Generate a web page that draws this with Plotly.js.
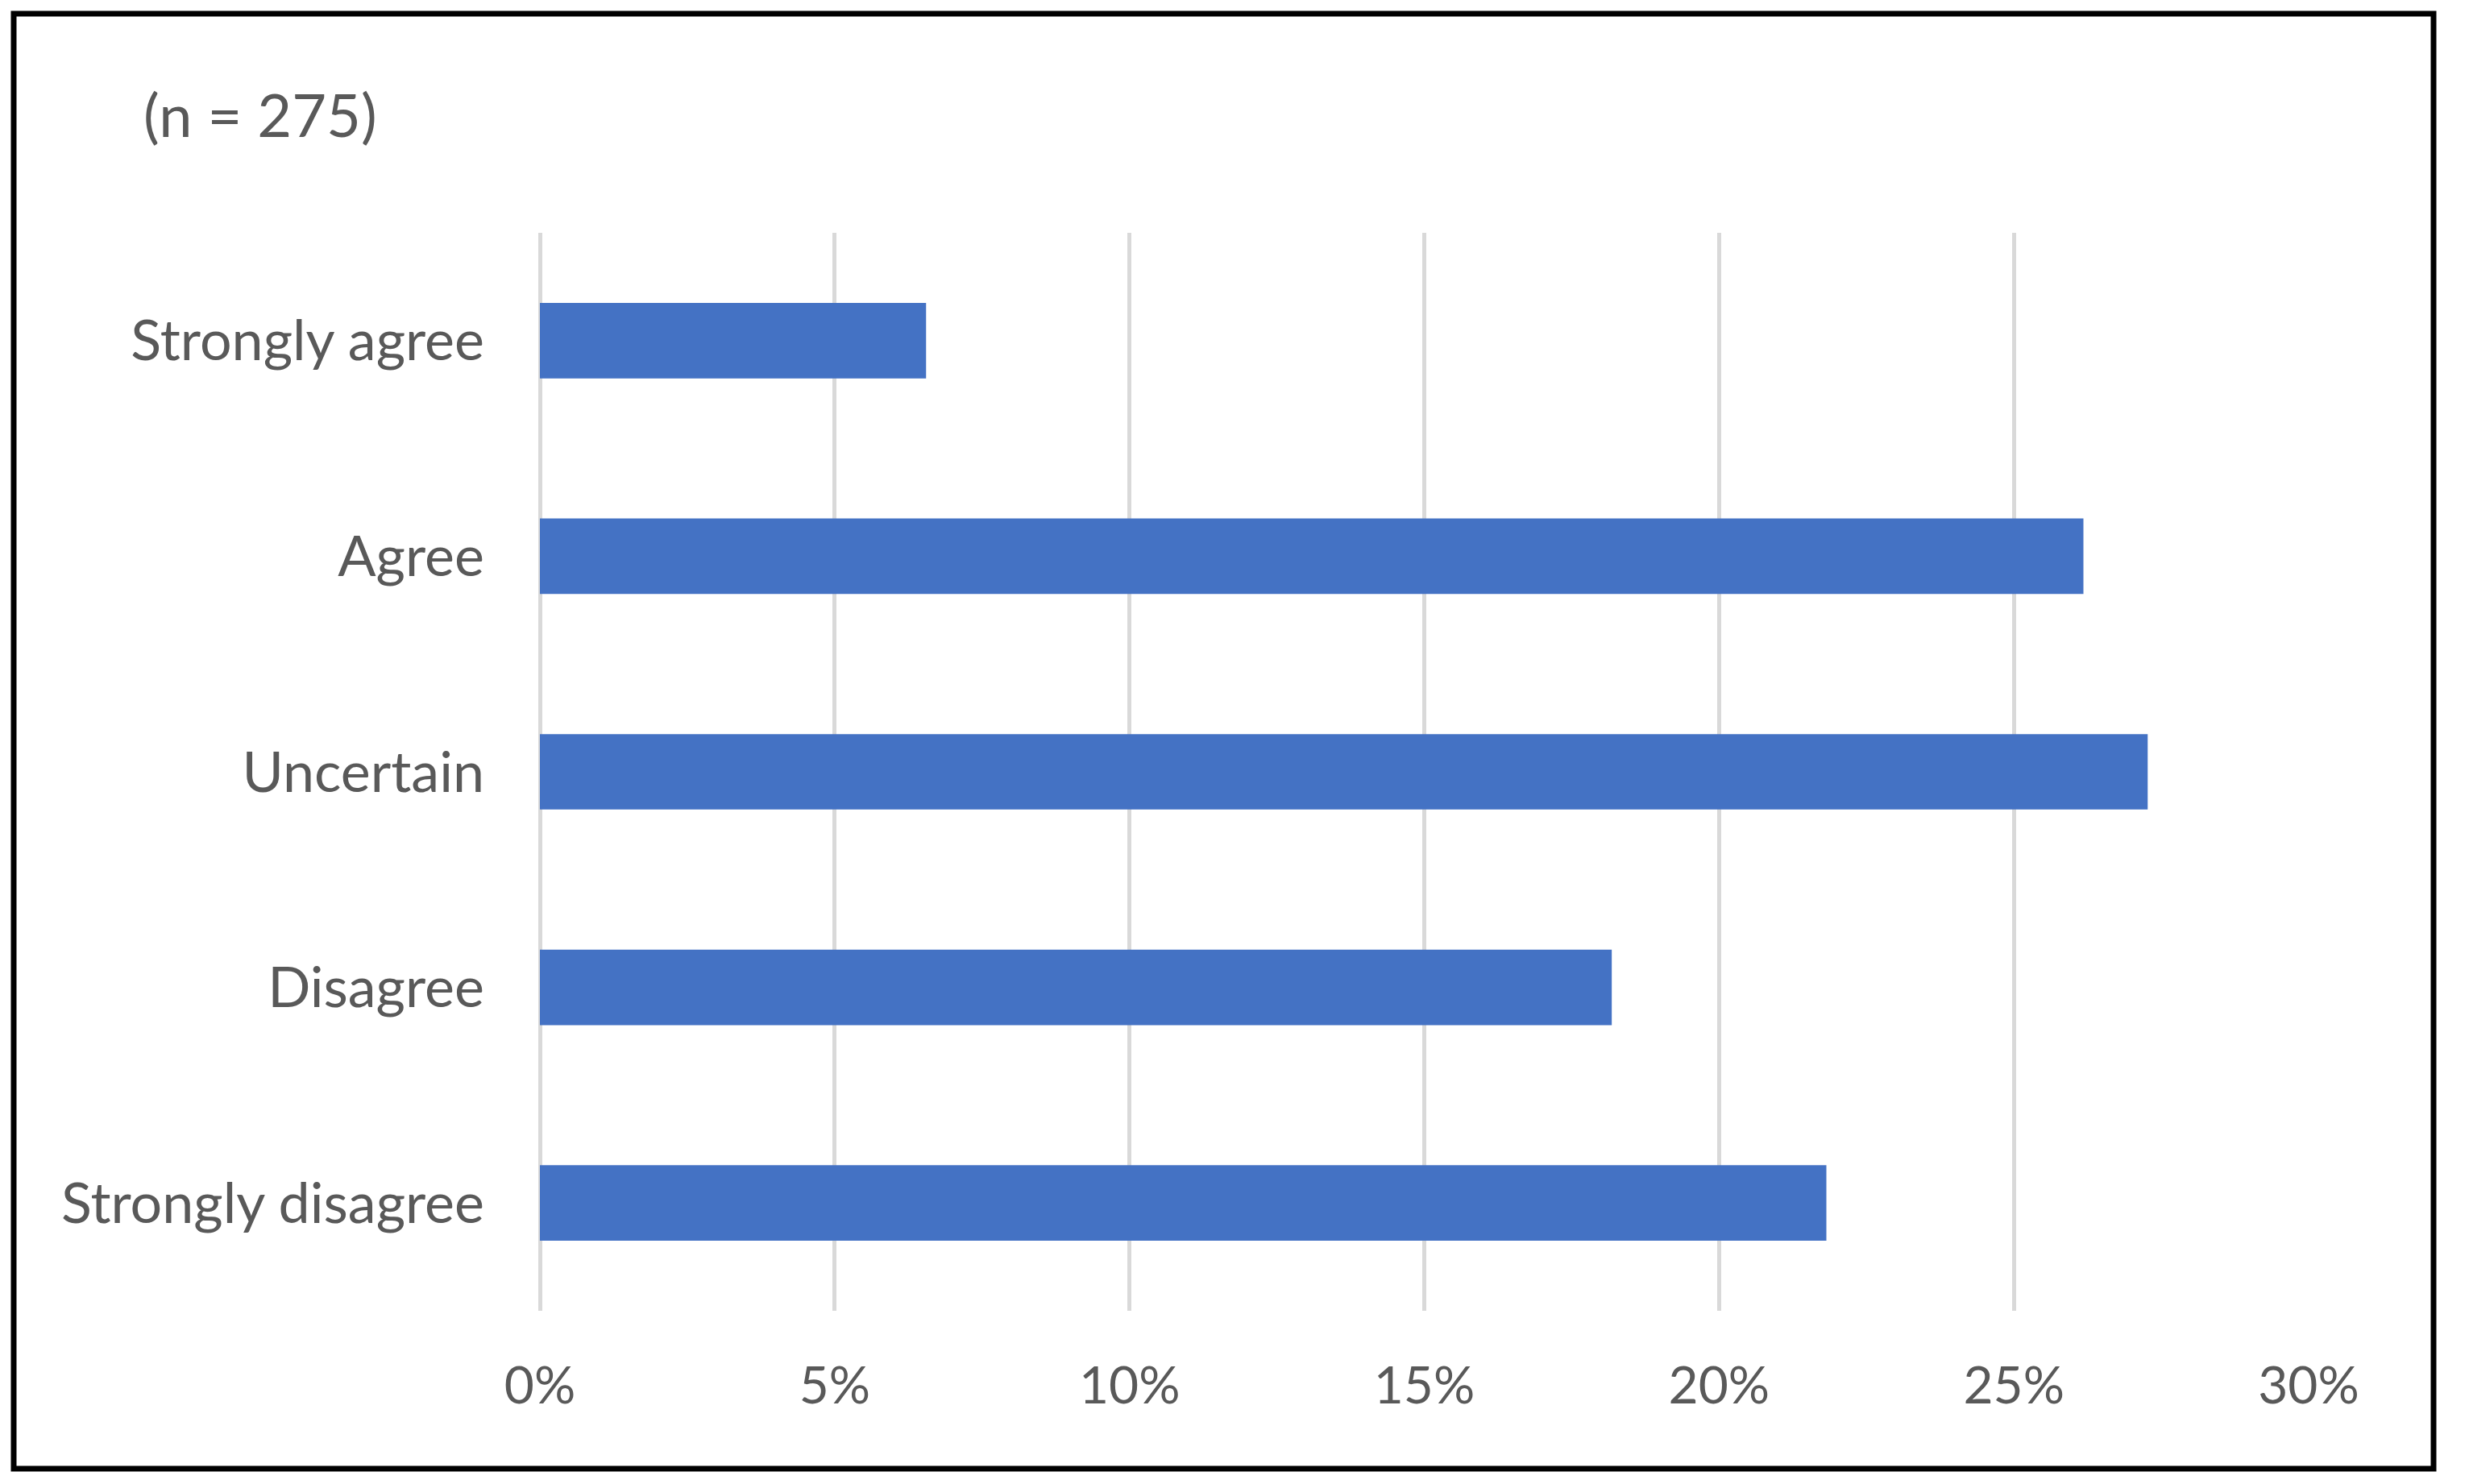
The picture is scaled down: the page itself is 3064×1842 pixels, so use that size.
<!DOCTYPE html>
<html>
<head>
<meta charset="utf-8">
<script src="https://cdn.plot.ly/plotly-3.0.1.min.js"></script>
<style>
  html, body { margin: 0; padding: 0; background: #ffffff; }
  #chart { width: 3064px; height: 1842px; }
</style>
</head>
<body>
<div id="chart"></div>
<script>
// Data (n = 275 respondents)
const categories = ["Strongly agree", "Agree", "Uncertain", "Disagree", "Strongly disagree"];
const shares = [0.0655, 0.2618, 0.2727, 0.1818, 0.2182];
const tickValues = [0, 0.05, 0.10, 0.15, 0.20, 0.25, 0.30];
const tickLabels = ["0%", "5%", "10%", "15%", "20%", "25%", "30%"];
const chartTitle = "(n = 275)";

const W = 3064, H = 1842;
const plotL = 670, plotR = 2865, plotT = 289, plotB = 1627;
const pw = plotR - plotL, ph = plotB - plotT;
const px = v => (v - plotL) / pw;
const py = v => (plotB - v) / ph;

const fontFamily = "Lato, 'Open Sans', sans-serif";
const textColor = "#595959";

const trace = {
  type: "bar",
  orientation: "h",
  y: categories,
  x: shares,
  marker: { color: "#4472C4", line: { width: 0 } },
  hoverinfo: "skip",
  showlegend: false
};

const layout = {
  width: W,
  height: H,
  paper_bgcolor: "#ffffff",
  plot_bgcolor: "#ffffff",
  margin: { l: plotL, r: W - plotR, t: plotT, b: H - plotB, pad: 0 },
  bargap: 0.65,
  font: { family: fontFamily, color: textColor, size: 66 },
  title: {
    text: chartTitle,
    xref: "container", yref: "container",
    x: 178 / W, xanchor: "left",
    y: 1 - 144 / H, yanchor: "middle",
    font: { family: fontFamily, size: 74, color: textColor }
  },
  xaxis: {
    range: [0, 0.30],
    tickvals: tickValues,
    ticktext: tickLabels,
    showgrid: true,
    gridcolor: "#d9d9d9",
    gridwidth: 5,
    zeroline: true,
    zerolinecolor: "#d9d9d9",
    zerolinewidth: 5,
    showline: false,
    ticks: "",
    ticklabelstandoff: 50,
    tickfont: { family: fontFamily, size: 64, color: textColor },
    fixedrange: true
  },
  yaxis: {
    type: "category",
    autorange: "reversed",
    showgrid: false,
    zeroline: false,
    showline: false,
    ticks: "",
    ticklabelstandoff: 68,
    tickfont: { family: fontFamily, size: 70, color: textColor },
    fixedrange: true
  },
  shapes: [{
    type: "rect",
    xref: "paper", yref: "paper",
    x0: px(17), x1: px(3020),
    y0: py(1823), y1: py(17),
    line: { color: "#000000", width: 7 },
    fillcolor: "rgba(0,0,0,0)",
    layer: "above"
  }]
};

Plotly.newPlot("chart", [trace], layout, { displayModeBar: false, staticPlot: true });
</script>
</body>
</html>
